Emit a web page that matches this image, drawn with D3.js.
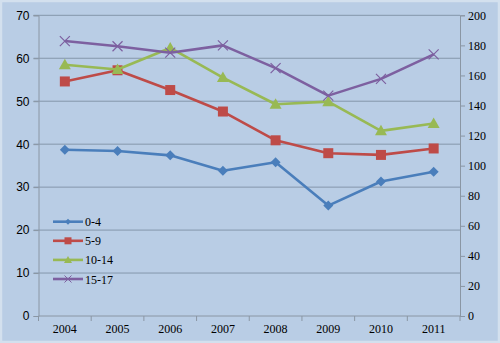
<!DOCTYPE html>
<html><head><meta charset="utf-8">
<script src="https://cdn.jsdelivr.net/npm/d3@7"></script>
<style>
html,body{margin:0;padding:0;background:#b9cde5;}
svg{display:block;}
</style></head>
<body>
<svg id="c" width="500" height="343"></svg>
<script>
const years = ["2004","2005","2006","2007","2008","2009","2010","2011"];
const s0_4   = [38.7, 38.4, 37.4, 33.8, 35.8, 25.7, 31.3, 33.6];
const s5_9   = [54.6, 57.2, 52.6, 47.6, 40.9, 37.9, 37.5, 39.0];
const s10_14 = [58.5, 57.4, 62.4, 55.5, 49.3, 49.9, 43.1, 44.8];
const s15_17 = [64.0, 62.8, 61.3, 63.0, 57.7, 51.3, 55.2, 60.9];
const leftTicks = [0,10,20,30,40,50,60,70];
const rightTicks = [0,20,40,60,80,100,120,140,160,180,200];

const series = [
  {name:"0-4", values:s0_4, color:"#4a7ebb", marker:"diamond"},
  {name:"5-9", values:s5_9, color:"#be4b48", marker:"square"},
  {name:"10-14", values:s10_14, color:"#98b954", marker:"triangle"},
  {name:"15-17", values:s15_17, color:"#7d60a0", marker:"x"}
];

const svg = d3.select("#c");
const L = 38.5, R = 460, T = 15.3, B = 316;
// frame
svg.append("rect").attr("x",1).attr("y",1).attr("width",498).attr("height",341)
  .attr("fill","#b9cde5").attr("stroke","#d3e0ee").attr("stroke-width",2.5);

const x = d3.scaleBand().domain(years).range([L,R]);
const y = d3.scaleLinear().domain([0,70]).range([B,T]);
const y2 = d3.scaleLinear().domain([0,200]).range([B,T]);

// gridlines
svg.append("g").selectAll("line").data(leftTicks.filter(d=>d>0)).join("line")
  .attr("x1",L-5).attr("x2",R).attr("y1",d=>y(d)).attr("y2",d=>y(d))
  .attr("stroke","#8497ab").attr("stroke-width",1);

// left axis
const gl = svg.append("g").attr("transform",`translate(${L},0)`)
  .call(d3.axisLeft(y).tickValues(leftTicks).tickSize(5).tickPadding(4));
gl.selectAll("text").attr("font-family","Liberation Sans, Arial, sans-serif").attr("font-size",12).attr("fill","#000");
gl.selectAll("line,path").attr("stroke","#8a96a4");

// right axis
const gr = svg.append("g").attr("transform",`translate(${R},0)`)
  .call(d3.axisRight(y2).tickValues(rightTicks).tickSize(5).tickPadding(3));
gr.selectAll("text").attr("font-family","Liberation Serif, Times New Roman, serif").attr("font-size",12).attr("fill","#000");
gr.selectAll("line,path").attr("stroke","#8a96a4");

// bottom axis
const gb = svg.append("g").attr("transform",`translate(0,${B})`);
gb.append("line").attr("x1",L).attr("x2",R).attr("stroke","#8a96a4");
gb.selectAll("line.t").data(d3.range(years.length+1)).join("line").attr("class","t")
  .attr("x1",i=>L+i*x.step()).attr("x2",i=>L+i*x.step()).attr("y1",0).attr("y2",5)
  .attr("stroke","#8a96a4");
gb.selectAll("text").data(years).join("text")
  .attr("x",d=>x(d)+x.bandwidth()/2).attr("y",17)
  .attr("text-anchor","middle").attr("font-family","Liberation Serif, Times New Roman, serif")
  .attr("font-size",12).attr("fill","#000").text(d=>d);

function drawMarker(g, type, color, cx, cy){
  if(type==="diamond"){
    g.append("path").attr("d",`M${cx},${cy-5}L${cx+5},${cy}L${cx},${cy+5}L${cx-5},${cy}Z`).attr("fill",color);
  } else if(type==="square"){
    g.append("rect").attr("x",cx-5).attr("y",cy-5).attr("width",10).attr("height",10).attr("fill",color);
  } else if(type==="triangle"){
    g.append("path").attr("d",`M${cx},${cy-6}L${cx+6},${cy+4.5}L${cx-6},${cy+4.5}Z`).attr("fill",color);
  } else {
    g.append("path").attr("d",`M${cx-5},${cy-5}L${cx+5},${cy+5}M${cx+5},${cy-5}L${cx-5},${cy+5}`)
      .attr("stroke",color).attr("stroke-width",1.2).attr("fill","none");
  }
}
function drawMarkerSmall(g, type, color, cx, cy){
  if(type==="diamond"){
    g.append("path").attr("d",`M${cx},${cy-3}L${cx+3},${cy}L${cx},${cy+3}L${cx-3},${cy}Z`).attr("fill",color);
  } else if(type==="square"){
    g.append("rect").attr("x",cx-3.5).attr("y",cy-3.5).attr("width",7).attr("height",7).attr("fill",color);
  } else if(type==="triangle"){
    g.append("path").attr("d",`M${cx},${cy-4}L${cx+4},${cy+3}L${cx-4},${cy+3}Z`).attr("fill",color);
  } else {
    g.append("path").attr("d",`M${cx-3.5},${cy-3.5}L${cx+3.5},${cy+3.5}M${cx+3.5},${cy-3.5}L${cx-3.5},${cy+3.5}`)
      .attr("stroke",color).attr("stroke-width",1).attr("fill","none");
  }
}

const line = d3.line().x((d,i)=>x(years[i])+x.bandwidth()/2).y(d=>y(d));
series.forEach(s=>{
  const g = svg.append("g");
  g.append("path").attr("d",line(s.values)).attr("fill","none")
    .attr("stroke",s.color).attr("stroke-width",2.6).attr("stroke-linejoin","round");
  s.values.forEach((v,i)=>drawMarker(g,s.marker,s.color,x(years[i])+x.bandwidth()/2,y(v)));
});

// legend
const lg = svg.append("g");
series.forEach((s,i)=>{
  const ly = 221.7 + i*19.1;
  lg.append("line").attr("x1",53).attr("x2",83).attr("y1",ly).attr("y2",ly)
    .attr("stroke",s.color).attr("stroke-width",2.6);
  drawMarkerSmall(lg,s.marker,s.color,68,ly);
  lg.append("text").attr("x",85).attr("y",ly+4.5).attr("font-family","Liberation Serif, Times New Roman, serif")
    .attr("font-size",12).attr("fill","#000").text(s.name);
});
</script>
</body></html>
